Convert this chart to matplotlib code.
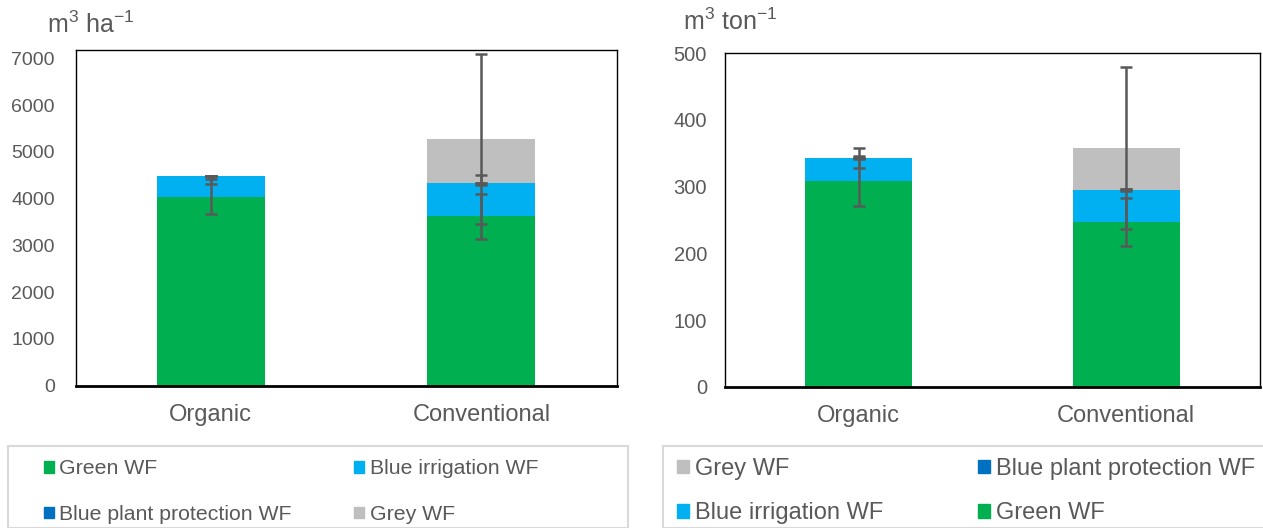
import matplotlib.pyplot as plt
import numpy as np
from matplotlib.patches import Patch, Rectangle

plt.rcParams['font.family'] = ['Liberation Sans', 'DejaVu Sans']
plt.rcParams['mathtext.fontset'] = 'custom'
plt.rcParams['mathtext.rm'] = 'Liberation Sans'
plt.rcParams['mathtext.default'] = 'regular'

categories = ['Organic', 'Conventional']

# water footprint per hectare (m3 ha-1)
green_ha = [4040, 3620]
blue_irr_ha = [450, 706]
blue_pp_ha = [5, 5]
grey_ha = [0, 950]
# error bars as (minus, plus)
green_ha_err = ([375, 492], [375, 483])
blue_irr_ha_err = ([180, 28], [0, 171])
blue_pp_ha_err = ([0, 0], [0, 0])
grey_ha_err = ([0, 1820], [0, 1820])

# water footprint per ton of product (m3 ton-1)
green_t = [309, 246.6]
blue_irr_t = [33.6, 48.4]
blue_pp_t = [0.5, 0.5]
grey_t = [0, 62.5]
green_t_err = ([37.5, 36], [37.5, 36])
blue_irr_t_err = ([15, 1], [15, 1])
blue_pp_t_err = ([1, 1], [1, 1])
grey_t_err = ([0, 122], [0, 122])

GREEN = '#00B050'
BLUE_IRR = '#00B0F0'
BLUE_PP = '#0070C0'
GREY = '#BFBFBF'
TEXT = '#595959'
ERR = '#595959'

W, H = 1263, 528


def stacked(ax, series):
    x = np.arange(len(categories))
    bottom = np.zeros(len(categories))
    tops = []
    for vals, color, err in series:
        vals = np.asarray(vals, dtype=float)
        ax.bar(x, vals, 0.4, bottom=bottom, color=color, linewidth=0, zorder=2)
        bottom = bottom + vals
        tops.append((bottom.copy(), err))
    for top, (lo, hi) in tops:
        ax.errorbar(x, top, yerr=[lo, hi], fmt='none', ecolor=ERR,
                    elinewidth=1.8, capsize=4.5, capthick=1.8, zorder=3)
    ax.set_xlim(-0.5, 1.5)
    ax.set_xticks(x)
    ax.set_xticklabels(categories, fontsize=17, color=TEXT)
    ax.tick_params(axis='x', length=0, pad=13)
    ax.tick_params(axis='y', length=0, labelsize=14, labelcolor=TEXT, pad=15)
    for s in ax.spines.values():
        s.set_color('black')
        s.set_linewidth(1.0)
    ax.spines['bottom'].set_linewidth(2.0)


fig = plt.figure(figsize=(W / 100, H / 100), dpi=100)

ax1 = fig.add_axes([75.5 / W, 1 - 385.7 / H, (616.6 - 75.5) / W, (385.7 - 50) / H])
stacked(ax1, [(green_ha, GREEN, green_ha_err),
              (blue_irr_ha, BLUE_IRR, blue_irr_ha_err),
              (blue_pp_ha, BLUE_PP, blue_pp_ha_err),
              (grey_ha, GREY, grey_ha_err)])
ax1.set_ylim(0, 7180)
ax1.set_yticks(range(0, 7001, 1000))

ax2 = fig.add_axes([725 / W, 1 - 386.7 / H, (1260 - 725) / W, (386.7 - 53.3) / H])
stacked(ax2, [(green_t, GREEN, green_t_err),
              (blue_irr_t, BLUE_IRR, blue_irr_t_err),
              (blue_pp_t, BLUE_PP, blue_pp_t_err),
              (grey_t, GREY, grey_t_err)])
ax2.set_ylim(0, 500)
ax2.set_yticks(range(0, 501, 100))
ax2.tick_params(axis='y', labelsize=14.5, pad=13)

fig.text(47 / W, 1 - 33 / H, r'm$^{3}$ ha$^{-1}$', fontsize=18, color=TEXT,
         ha='left', va='baseline')
fig.text(683 / W, 1 - 30 / H, r'm$^{3}$ ton$^{-1}$', fontsize=18, color=TEXT,
         ha='left', va='baseline')

# legend boxes
fig.patches.append(Rectangle((8 / W, 0), 620 / W, 1 - 446 / H, transform=fig.transFigure,
                             fill=False, edgecolor='#D9D9D9', linewidth=1.5))
fig.patches.append(Rectangle((663 / W, 0), 620 / W, 1 - 446 / H, transform=fig.transFigure,
                             fill=False, edgecolor='#D9D9D9', linewidth=1.5))

h_green = Patch(color=GREEN, label='Green WF')
h_irr = Patch(color=BLUE_IRR, label='Blue irrigation WF')
h_pp = Patch(color=BLUE_PP, label='Blue plant protection WF')
h_grey = Patch(color=GREY, label='Grey WF')

fig.legend(handles=[h_green, h_pp, h_irr, h_grey], ncol=2, frameon=False,
           loc='upper left', bbox_to_anchor=(44 / W, 1 - 459.5 / H),
           borderpad=0, borderaxespad=0, fontsize=15.3, labelcolor=TEXT,
           handlelength=0.47, handleheight=0.47, handletextpad=0.24,
           columnspacing=2.96, labelspacing=1.25)

fig.legend(handles=[h_grey, h_irr, h_pp, h_green], ncol=2, frameon=False,
           loc='upper left', bbox_to_anchor=(677 / W, 1 - 458 / H),
           borderpad=0, borderaxespad=0, fontsize=17, labelcolor=TEXT,
           handlelength=0.51, handleheight=0.51, handletextpad=0.25,
           columnspacing=4.0, labelspacing=0.94)

fig.savefig('out.png', dpi=100)
